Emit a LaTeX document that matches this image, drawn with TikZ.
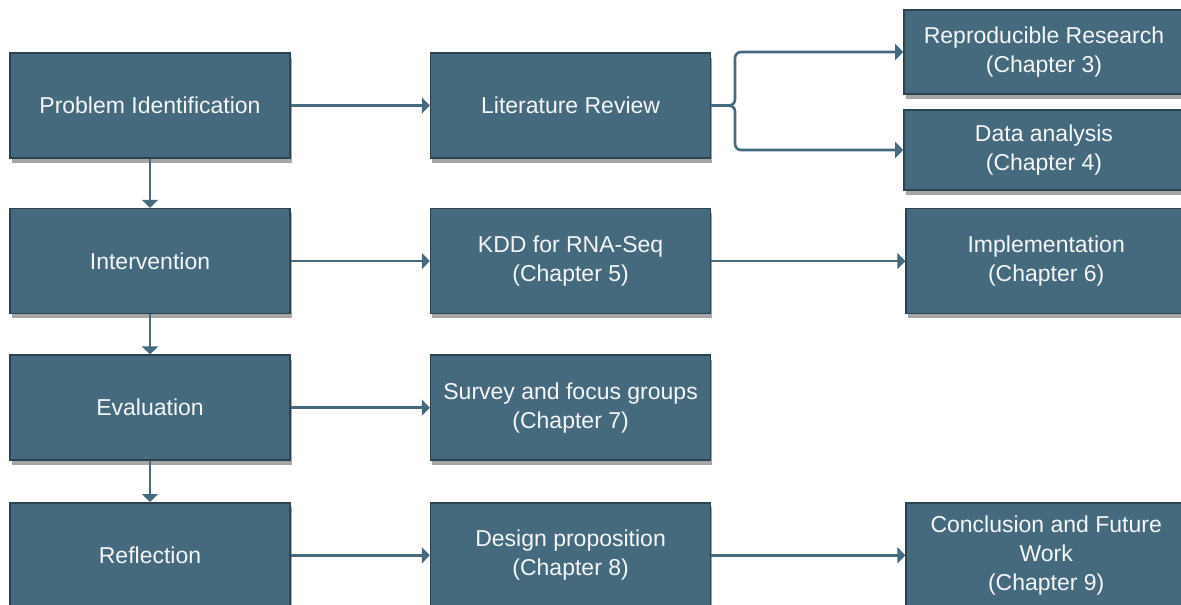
\documentclass[tikz,border=0pt]{standalone}
\usepackage{fontspec}
\setmainfont{Liberation Sans}
\usetikzlibrary{positioning,arrows.meta,shadows}

\definecolor{boxfill}{RGB}{70,106,125}
\definecolor{boxline}{RGB}{44,68,82}
\definecolor{linkcol}{RGB}{70,106,125}

\begin{document}
\begin{tikzpicture}[
  x=1pt,y=-1pt,
  font=\fontsize{23}{29}\selectfont,
  n/.style={draw=boxline,line width=1.6pt,fill=boxfill,text=white!94!boxfill,
    minimum width=280pt,minimum height=105pt,inner sep=2pt,align=center,
    drop shadow={shadow xshift=1.5pt,shadow yshift=-4.5pt,opacity=.35,fill=black}},
  link/.style={draw=linkcol,line width=2.6pt,->},
  >={Triangle[length=8pt,width=16pt]}
]
\clip (0,0) rectangle (1181,605);
\node[n] (pi) at (150,105.5) {Problem Identification};
\node[n,below=49pt of pi] (int) {Intervention};
\node[n,below=40pt of int] (ev) {Evaluation};
\node[n,below=41pt of ev] (rf) {Reflection};
\node[n,right=139pt of pi] (lr) {Literature Review};
\node[n,right=139pt of int] (kdd) {KDD for RNA-Seq\\(Chapter 5)};
\node[n,right=139pt of ev] (sv) {Survey and focus groups\\(Chapter 7)};
\node[n,right=139pt of rf] (dp) {Design proposition\\(Chapter 8)};
\node[n,minimum height=84pt] (rr) at (1044,52) {Reproducible Research\\(Chapter 3)};
\node[n,minimum height=80pt] (da) at (1044,150) {Data analysis\\(Chapter 4)};
\node[n,right=194pt of kdd] (imp) {Implementation\\(Chapter 6)};
\node[n,right=194pt of dp] (cf) {Conclusion and Future\\Work\\(Chapter 9)};
% left column, top to bottom
\draw[link] (pi) -- (int);
\draw[link] (int) -- (ev);
\draw[link] (ev) -- (rf);
% to the right
\draw[link] (pi) -- (lr);
\draw[link] (int) -- (kdd);
\draw[link] (ev) -- (sv);
\draw[link] (rf) -- (dp);
\draw[link] (kdd) -- (imp);
\draw[link] (dp) -- (cf);
\draw[link,rounded corners=6pt] (lr.east) -- (735,105.5) |- (rr.west);
\draw[link,rounded corners=6pt] (lr.east) -- (735,105.5) |- (da.west);
\end{tikzpicture}
\end{document}
